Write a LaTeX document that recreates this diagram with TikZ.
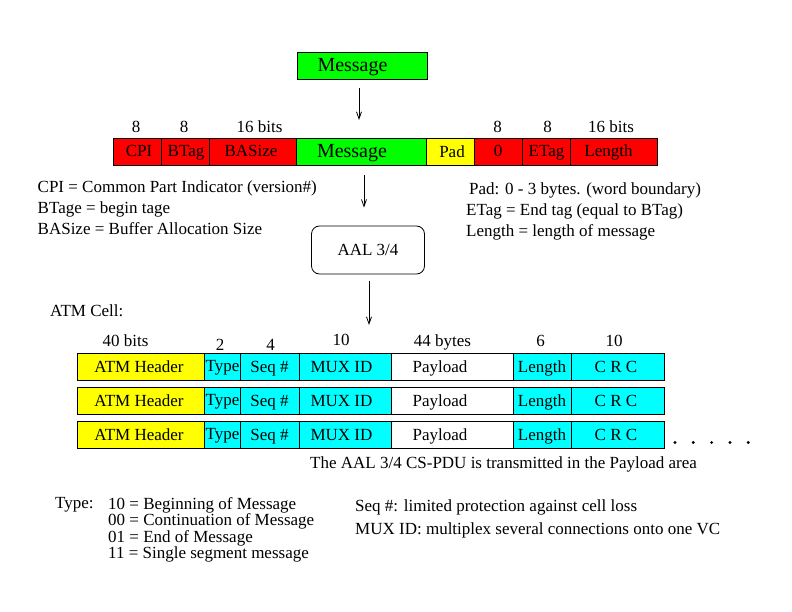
\documentclass[tikz,border=0pt]{standalone}
\usepackage{fontspec}
\setmainfont{Liberation Serif}
\usetikzlibrary{arrows.meta}
\definecolor{cred}{RGB}{255,0,0}
\definecolor{cgreen}{RGB}{0,255,0}
\definecolor{cyellow}{RGB}{255,255,0}
\definecolor{ccyan}{RGB}{0,255,255}
\newcommand{\fsA}{\fontsize{17}{19}\selectfont}
\newcommand{\fsB}{\fontsize{20}{22}\selectfont}
\tikzset{
  cell/.style={draw=black, line width=0.8pt, minimum height=27pt, inner sep=0pt, outer sep=0pt, anchor=center},
  txt/.style={inner sep=0pt, font=\fsA, anchor=base},
  ltxt/.style={inner sep=0pt, font=\fsA, anchor=base west},
  arr/.style={line width=0.8pt, -{Straight Barb[length=7pt,width=5pt]}},
  dot/.style={circle, fill=black, inner sep=0pt, minimum size=3.2pt}
}
\begin{document}
\begin{tikzpicture}[x=1pt,y=-1pt]
\useasboundingbox (0,0) rectangle (792,612);
% top message
\node[cell, fill=cgreen, minimum width=130pt] (topmsg) at (362,65.8) {};
\node[txt, font=\fsB] (topmsgt) at (352.5,71.7) {Message};
% top row
\node[cell, fill=cred, minimum width=48.5pt] (cpi) at (137.25,151.5) {};
\node[cell, fill=cred, minimum width=48pt] (btag) at (185.5,151.5) {};
\node[cell, fill=cred, minimum width=87pt] (basize) at (253,151.5) {};
\node[cell, fill=cgreen, minimum width=130pt] (pmsg) at (361.5,151.5) {};
\node[cell, fill=cyellow, minimum width=48pt] (pad) at (450.5,151.5) {};
\node[cell, fill=cred, minimum width=48pt] (zero) at (498.5,151.5) {};
\node[cell, fill=cred, minimum width=48pt] (etag) at (546.5,151.5) {};
\node[cell, fill=cred, minimum width=87pt] (plen) at (614,151.5) {};
\node[txt] (cpit) at (139,156.5) {CPI};
\node[txt] (btagt) at (186,156.5) {BTag};
\node[txt] (basizet) at (251,156.5) {BASize};
\node[txt, font=\fsB] (pmsgt) at (352,157.5) {Message};
\node[txt] (padt) at (452,158) {Pad};
\node[txt] (zerot) at (498,156.5) {0};
\node[txt] (etagt) at (546.5,156.5) {ETag};
\node[txt] (plent) at (608.5,156.5) {Length};
% top labels
\node[txt] (l8a) at (136,132.7) {8};
\node[txt] (l8b) at (184,132.7) {8};
\node[txt] (l16a) at (259.5,132.7) {16 bits};
\node[txt] (l8c) at (497.5,132.7) {8};
\node[txt] (l8d) at (547.5,132.7) {8};
\node[txt] (l16b) at (611,132.7) {16 bits};
% arrow 1
\path (topmsg.south) ++(-3,0) coordinate (a1);
\draw[arr, shorten <=9pt, shorten >=18pt] (a1) -- (a1 |- pmsg.north);
% explanations
\node[ltxt] (e1) at (37.5,193) {CPI = Common Part Indicator (version\#)};
\node[ltxt] (e2) at (37.5,213.5) {BTage = begin tage};
\node[ltxt] (e3) at (37.5,235) {BASize = Buffer Allocation Size};
\node[ltxt] (e4) at (469,195) {Pad: 0 - 3 bytes. (word boundary)};
\node[ltxt] (e5) at (466,215.5) {ETag = End tag (equal to BTag)};
\node[ltxt] (e6) at (466,236.5) {Length = length of message};
% AAL box
\node[draw=black, line width=0.8pt, rounded corners=8pt, minimum width=113pt, minimum height=48pt, inner sep=0pt, font=\fsA] (aal) at (368,250) {AAL 3/4};
\path (pmsg.south) ++(2.5,0) coordinate (a2);
\draw[arr, shorten <=10pt, shorten >=18pt] (a2) -- (a2 |- aal.north);
\path (aal.south) ++(1,0) coordinate (a3);
\node[ltxt] (atmcell) at (50,316.5) {ATM Cell:};
% cell labels
\node[txt] (c40) at (125.5,346.7) {40 bits};
\node[txt] (c2) at (220,350.7) {2};
\node[txt] (c4) at (270.5,350.7) {4};
\node[txt] (c10a) at (341,345.7) {10};
\node[txt] (c44) at (442.5,346.5) {44 bytes};
\node[txt] (c6) at (540.5,346) {6};
\node[txt] (c10b) at (614,346) {10};
% cell rows
\foreach \r/\y in {1/366.5, 2/400.5, 3/434.5}{
  \node[cell, fill=cyellow, minimum width=127.5pt] (atm\r) at (140.75,\y) {};
  \node[cell, fill=ccyan, minimum width=36pt] (typ\r) at (222.5,\y) {};
  \node[cell, fill=ccyan, minimum width=59pt] (seq\r) at (270,\y) {};
  \node[cell, fill=ccyan, minimum width=91.5pt] (mux\r) at (345.25,\y) {};
  \node[cell, fill=white, minimum width=122.5pt] (pay\r) at (452.25,\y) {};
  \node[cell, fill=ccyan, minimum width=58pt] (len\r) at (542.5,\y) {};
  \node[cell, fill=ccyan, minimum width=93pt] (crc\r) at (618,\y) {};
  \node[txt] (atmt\r) at (139,\y+5.8) {ATM Header};
  \node[ltxt] (typt\r) at (205.5,\y+5.3) {Type};
  \node[txt] (seqt\r) at (269.5,\y+6.3) {Seq \#};
  \node[txt] (muxt\r) at (341.5,\y+5.8) {MUX ID};
  \node[txt] (payt\r) at (440,\y+6.3) {Payload};
  \node[txt] (lent\r) at (542,\y+5.8) {Length};
  \node[txt] (crct\r) at (616,\y+5.8) {C R C};
}
\draw[arr, shorten <=7pt, shorten >=28pt] (a3) -- (a3 |- mux1.north);
% dots
\node[dot] (d1) at (675,442.5) {};
\node[dot] (d2) at (693.3,442.5) {};
\node[dot] (d3) at (711.6,442.5) {};
\node[dot] (d4) at (729.9,442.5) {};
\node[dot] (d5) at (748.2,442.5) {};
\node[ltxt] (note) at (310,468.5) {The AAL 3/4 CS-PDU is transmitted in the Payload area};
% bottom
\node[ltxt] (ty) at (55,508) {Type:};
\node[ltxt] (ty1) at (108,509) {10 = Beginning of Message};
\node[ltxt] (ty2) at (108,525.5) {00 = Continuation of Message};
\node[ltxt] (ty3) at (108,542) {01 = End of Message};
\node[ltxt] (ty4) at (108,558.5) {11 = Single segment message};
\node[ltxt] (sq) at (355,511) {Seq \#: limited protection against cell loss};
\node[ltxt] (mx) at (355,534) {MUX ID: multiplex several connections onto one VC};
\end{tikzpicture}
\end{document}
